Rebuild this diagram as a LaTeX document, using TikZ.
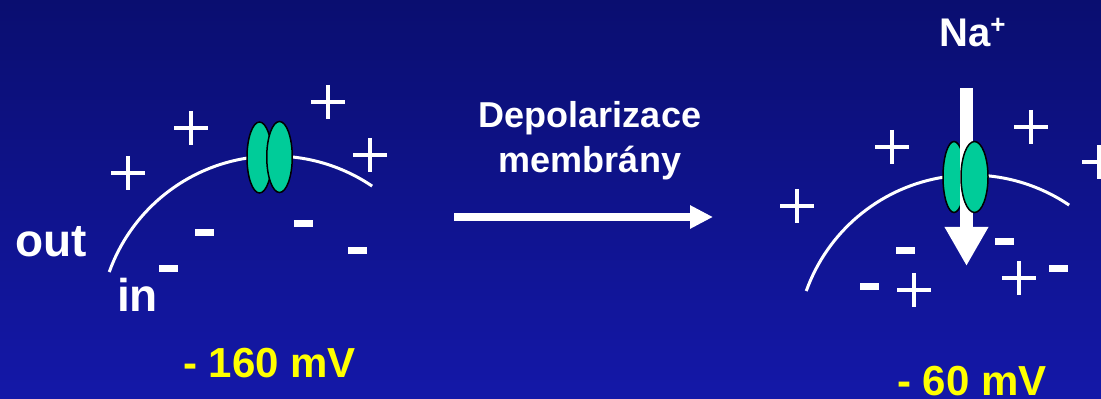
\documentclass[tikz,border=0pt]{standalone}
\usepackage{fontspec}
\setmainfont{Liberation Sans}
\usetikzlibrary{arrows.meta,shapes.geometric}
\definecolor{bgtop}{RGB}{10,14,112}
\definecolor{bgbottom}{RGB}{20,24,168}
\definecolor{channelgreen}{RGB}{0,204,153}
\definecolor{voltage}{RGB}{255,255,0}

\begin{document}
\begin{tikzpicture}[x=1pt,y=1pt,
  plusmark/.style={minimum size=34pt, inner sep=0pt,
    path picture={\draw[white, line width=3.6pt]
      (path picture bounding box.west) -- (path picture bounding box.east)
      (path picture bounding box.north) -- (path picture bounding box.south);}},
  minusmark/.style={fill=white, minimum width=19pt, minimum height=7pt, inner sep=0pt},
  membrane/.style={draw=white, line width=3pt},
  chan/.style={ellipse, draw=black, line width=1.5pt, fill=channelgreen, inner sep=0pt,
    minimum height=71pt},
  lbl/.style={text=white, inner sep=0pt, anchor=base west},
  bigtxt/.style={font=\fontsize{46}{50}\selectfont\bfseries},
  midtxt/.style={font=\fontsize{36}{40}\selectfont\bfseries},
  volttxt/.style={text=voltage, inner sep=0pt, anchor=base west,
    font=\fontsize{42}{46}\selectfont\bfseries},
  fatright/.style={white, line width=8pt, -{Triangle[length=23pt,width=22pt]}},
  fatdown/.style={white, line width=13pt, -{Triangle[length=39pt,width=41pt]}}
]
% background
\shade[top color=bgtop, bottom color=bgbottom] (0,0) rectangle (1101,399);
\useasboundingbox (0,0) rectangle (1101,399);

% ---------- resting membrane ----------
\draw[membrane] (274,68) ++(160.3:175) arc[start angle=160.3, end angle=55.9, radius=175];
\node[chan, minimum width=25pt] (chA1) at (259.5,241.5) {};
\node[chan, minimum width=25.5pt] (chA2) at (279.5,242) {};

\node[plusmark] (pA1) at (128,226) {};
\node[plusmark] (pA2) at (191,271) {};
\node[plusmark] (pA3) at (328,297) {};
\node[plusmark] (pA4) at (370,244) {};
\node[minusmark] (mA1) at (204,166) {};
\node[minusmark] (mA2) at (303,175) {};
\node[minusmark] (mA3) at (168,130) {};
\node[minusmark] (mA4) at (357,148) {};

\node[lbl, bigtxt] (out) at (15,142) {out};
\node[lbl, bigtxt] (in) at (117,87) {in};
\node[volttxt] (vA) at (183,21) {- 160 mV};

% ---------- transition ----------
\node[text=white, inner sep=0pt, anchor=base, midtxt] (dep1) at (590,271) {Depolarizace};
\node[text=white, inner sep=0pt, anchor=base, midtxt] (dep2) at (590,226) {membrány};
\coordinate (arrS) at (454,182);
\coordinate (arrE) at (713,182);
\draw[fatright] (arrS) -- (arrE);

% ---------- depolarised membrane ----------
\draw[membrane] (971,49) ++(160.3:175) arc[start angle=160.3, end angle=55.9, radius=175];
\node[chan, minimum width=22pt] (chB1) at (954,222) {};
\coordinate (naTop) at (966.5,311);
\coordinate (naTip) at (966.5,133);
\draw[fatdown] (naTop) -- (naTip);
\node[chan, minimum width=27pt] (chB2) at (974.5,222) {};

\node[lbl, font=\fontsize{40}{44}\selectfont\bfseries] (na) at (939,352)
  {Na\raisebox{13pt}{\fontsize{26}{26}\selectfont +}};

\node[plusmark] (pB1) at (797,193) {};
\node[plusmark] (pB2) at (892,252) {};
\node[plusmark] (pB3) at (1031,272) {};
\node[plusmark] (pB4) at (1099,237) {};
\node[plusmark] (pB5) at (914,109) {};
\node[plusmark] (pB6) at (1019,121) {};
\node[minusmark] (mB1) at (905,148) {};
\node[minusmark] (mB2) at (1004,157) {};
\node[minusmark] (mB3) at (869,112) {};
\node[minusmark] (mB4) at (1058,130) {};

\node[volttxt] (vB) at (897,3) {- 60 mV};
\end{tikzpicture}
\end{document}
